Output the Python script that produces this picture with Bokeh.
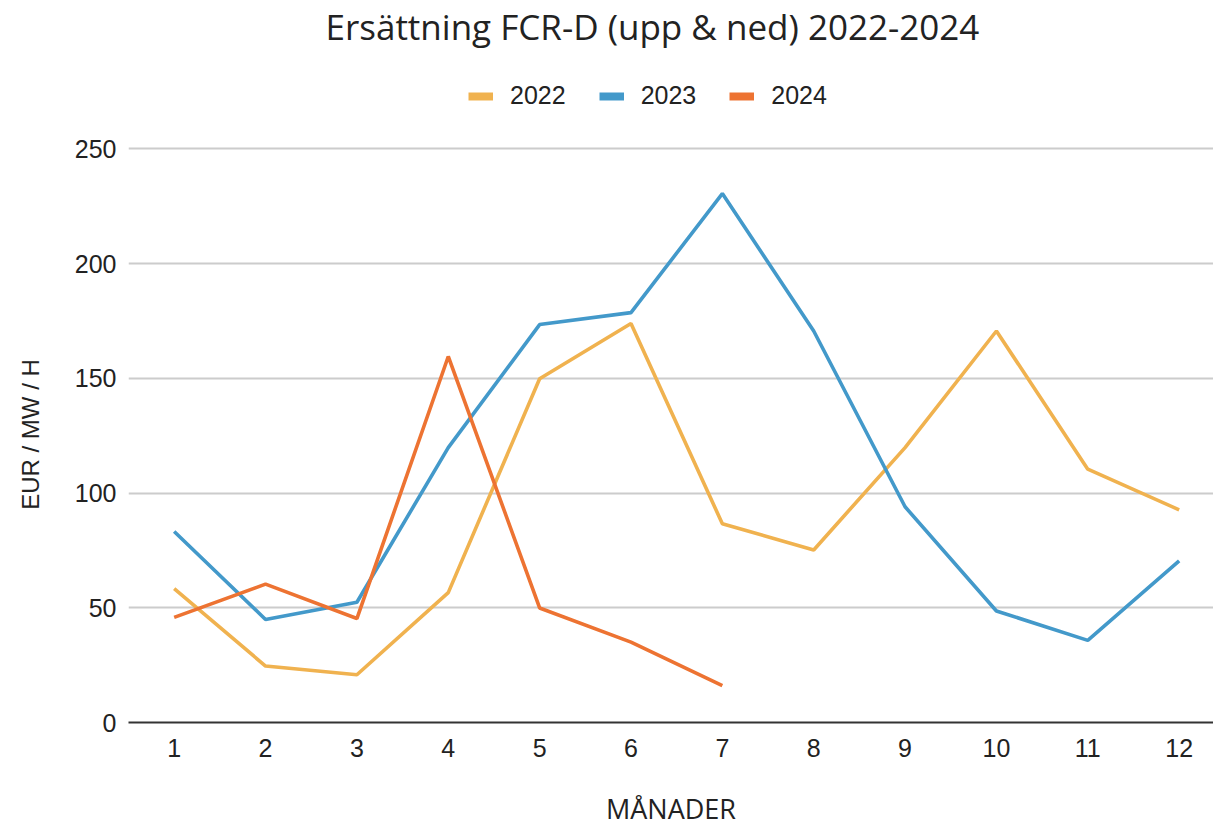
from bokeh.plotting import figure
from bokeh.layouts import column
from bokeh.models import Range1d, FixedTicker, Legend, LegendItem
from bokeh.embed import file_html
from bokeh.resources import INLINE

months = [1, 2, 3, 4, 5, 6, 7, 8, 9, 10, 11, 12]
month_labels = ["1", "2", "3", "4", "5", "6", "7", "8", "9", "10", "11", "12"]
y_ticks = [0, 50, 100, 150, 200, 250]

v2022 = [58.3, 24.6, 20.8, 56.6, 149.8, 173.9, 86.6, 75.2, 119.8, 170.6, 110.4, 92.7]
v2023 = [83.2, 44.9, 52.4, 119.8, 173.4, 178.6, 230.5, 170.6, 94.0, 48.6, 35.8, 70.4]
v2024 = [45.8, 60.3, 45.3, 159.5, 49.9, 35.0, 16.1]

series_names = ["2022", "2023", "2024"]
colors = ["#F0B24F", "#4399CA", "#ED7332"]
title_text = "Ersättning FCR-D (upp & ned) 2022-2024"

# ---- header figure: title + legend ----
head = figure(width=1213, height=128, output_backend="svg", toolbar_location=None,
              x_range=Range1d(0, 1), y_range=Range1d(0, 1),
              x_axis_location=None, y_axis_location=None,
              min_border_left=0, min_border_right=0, min_border_top=8, min_border_bottom=0)
head.outline_line_color = None
head.grid.grid_line_color = None
head.title.text = title_text
head.title.text_font = "Open Sans"
head.title.text_font_size = "35px"
head.title.text_font_style = "normal"
head.title.text_color = "#222222"
head.title.align = "left"
head.title.offset = 197
head.title.standoff = 0

swatches = []
for c in colors:
    s = head.line(x=[float("nan")], y=[float("nan")], line_color=c, line_width=8)
    swatches.append(s)

legend = Legend(items=[LegendItem(label=n, renderers=[s]) for n, s in zip(series_names, swatches)],
                orientation="horizontal", location=(340, 18),
                label_text_font="Liberation Sans", label_text_font_size="25px",
                label_text_color="#222222", glyph_width=25, glyph_height=22,
                spacing=33, label_standoff=17, border_line_color=None,
                background_fill_alpha=0, padding=0, margin=0)
head.add_layout(legend, "center")

# ---- main chart ----
p = figure(width=1213, height=701, output_backend="svg", toolbar_location=None,
           x_range=Range1d(0.5, 12.376), y_range=Range1d(0, 251),
           min_border_left=128, min_border_right=0, min_border_top=18, min_border_bottom=100)
p.outline_line_color = None
p.background_fill_color = "white"
p.border_fill_color = "white"

for vals, c in zip([v2022, v2023, v2024], colors):
    p.line(months[:len(vals)], vals, line_color=c, line_width=3.6)

p.xgrid.grid_line_color = None
p.ygrid.grid_line_color = "#cccccc"
p.ygrid.grid_line_width = 2
p.ygrid.ticker = FixedTicker(ticks=y_ticks)

p.xaxis.ticker = FixedTicker(ticks=months)
p.xaxis.major_label_overrides = {m: l for m, l in zip(months, month_labels)}
p.xaxis.axis_line_color = "#333333"
p.xaxis.axis_line_width = 2
p.xaxis.major_tick_line_color = None
p.xaxis.minor_tick_line_color = None
p.xaxis.major_label_text_font = "Liberation Sans"
p.xaxis.major_label_text_font_size = "25px"
p.xaxis.major_label_text_color = "#222222"
p.xaxis.major_label_standoff = 10
p.xaxis.axis_label = "MÅNADER"
p.xaxis.axis_label_text_font = "Open Sans"
p.xaxis.axis_label_text_font_size = "27px"
p.xaxis.axis_label_text_font_style = "normal"
p.xaxis.axis_label_text_color = "#222222"
p.xaxis.axis_label_standoff = 30

p.yaxis.ticker = FixedTicker(ticks=y_ticks)
p.yaxis.axis_line_color = None
p.yaxis.major_tick_line_color = None
p.yaxis.minor_tick_line_color = None
p.yaxis.major_label_text_font = "Liberation Sans"
p.yaxis.major_label_text_font_size = "25px"
p.yaxis.major_label_text_color = "#222222"
p.yaxis.major_label_standoff = 6
p.yaxis.axis_label = "EUR / MW / H"
p.yaxis.axis_label_text_font = "Liberation Sans"
p.yaxis.axis_label_text_font_size = "24px"
p.yaxis.axis_label_text_font_style = "normal"
p.yaxis.axis_label_text_color = "#222222"
p.yaxis.axis_label_standoff = 28

layout = column(head, p, spacing=0)
open("out.html", "w").write(file_html(layout, INLINE))
